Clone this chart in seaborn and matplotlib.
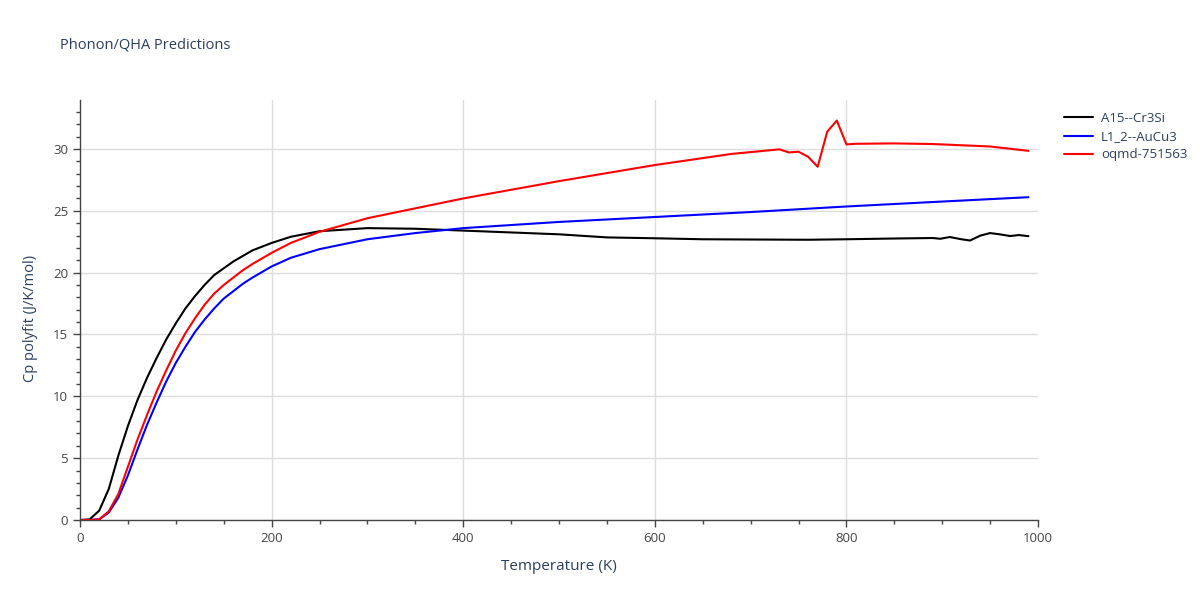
import numpy as np
import pandas as pd
import matplotlib
matplotlib.use("Agg")
import matplotlib.pyplot as plt
from matplotlib.ticker import MultipleLocator
import seaborn as sns

# A15--Cr3Si
t_a15 = [0, 10, 20, 30, 40, 50, 60, 70, 80, 90, 100, 110, 120, 130, 140, 160, 180, 200, 220,
         250, 300, 350, 400, 500, 550, 600, 650, 700, 760, 800, 850, 890, 898, 908, 920, 929,
         940, 950, 960, 971, 980, 990]
cp_a15 = [0, 0.05, 0.75, 2.5, 5.2, 7.6, 9.7, 11.5, 13.1, 14.6, 15.9, 17.1, 18.1, 19.0, 19.8,
          20.9, 21.8, 22.4, 22.9, 23.35, 23.6, 23.55, 23.4, 23.1, 22.85, 22.78, 22.7, 22.68,
          22.66, 22.7, 22.76, 22.8, 22.74, 22.88, 22.7, 22.6, 23.0, 23.2, 23.1, 22.96, 23.04, 22.95]

# L1_2--AuCu3
t_l12 = [0, 10, 20, 30, 40, 50, 60, 70, 80, 90, 100, 110, 120, 130, 140, 150, 160, 170, 180,
         200, 220, 250, 300, 350, 400, 500, 600, 700, 800, 900, 990]
cp_l12 = [0, 0, 0.05, 0.6, 1.8, 3.6, 5.7, 7.7, 9.5, 11.2, 12.7, 14.0, 15.2, 16.2, 17.1, 17.9,
          18.5, 19.1, 19.6, 20.5, 21.2, 21.9, 22.7, 23.2, 23.6, 24.1, 24.5, 24.9, 25.35, 25.75, 26.1]

# oqmd-751563
t_oqmd = [0, 10, 20, 30, 40, 50, 60, 70, 80, 90, 100, 110, 120, 130, 140, 150, 160, 170, 180,
          200, 220, 250, 300, 350, 400, 500, 600, 680, 730, 740, 750, 760, 770, 780, 790, 800,
          810, 850, 890, 950, 990]
cp_oqmd = [0, 0, 0.05, 0.7, 2.1, 4.3, 6.5, 8.5, 10.4, 12.1, 13.7, 15.1, 16.3, 17.4, 18.3, 19.0,
           19.6, 20.2, 20.7, 21.6, 22.4, 23.3, 24.4, 25.2, 26.0, 27.4, 28.7, 29.6, 29.97, 29.72,
           29.78, 29.37, 28.56, 31.4, 32.3, 30.37, 30.42, 30.45, 30.4, 30.2, 29.85]

names = ["A15--Cr3Si", "L1_2--AuCu3", "oqmd-751563"]
colors = ["black", "blue", "red"]

df = pd.concat([
    pd.DataFrame({"T": t_a15, "Cp": cp_a15, "name": names[0]}),
    pd.DataFrame({"T": t_l12, "Cp": cp_l12, "name": names[1]}),
    pd.DataFrame({"T": t_oqmd, "Cp": cp_oqmd, "name": names[2]}),
])

sns.set_style("white")
plt.rcParams["font.family"] = ["Open Sans", "DejaVu Sans"]
txt = "#2a3f5f"
tick_c = "#444444"
grid_c = "#dddddd"

fig = plt.figure(figsize=(12, 6), dpi=100)
ax = fig.add_axes([80 / 1200, 1 - 520 / 600, 958 / 1200, 420 / 600])

sns.lineplot(data=df, x="T", y="Cp", hue="name", palette=colors, hue_order=names,
             linewidth=1.5, ax=ax, sort=False, estimator=None)

ax.set_xlim(0, 1000)
ax.set_ylim(0, 33.96)
ax.xaxis.set_major_locator(MultipleLocator(200))
ax.xaxis.set_minor_locator(MultipleLocator(50))
ax.yaxis.set_major_locator(MultipleLocator(5))
ax.yaxis.set_minor_locator(MultipleLocator(1))
ax.grid(True, axis="y", which="major", color=grid_c, linewidth=1)
ax.grid(False, axis="x")
# vertical grid lines, none on the right edge
for v in ax.get_xticks():
    if 0 < v < 1000:
        ax.axvline(v, color=grid_c, linewidth=1, zorder=0)
ax.set_axisbelow(True)
for s in ["top", "right"]:
    ax.spines[s].set_visible(False)
for s in ["left", "bottom"]:
    ax.spines[s].set_color("#444444")
    ax.spines[s].set_linewidth(1)
ax.tick_params(which="major", direction="out", length=5, width=1, color=tick_c,
               labelsize=9.5, labelcolor=tick_c, left=True, bottom=True)
ax.tick_params(which="minor", direction="out", length=3, width=1, color=tick_c,
               left=True, bottom=True)

ax.set_xlabel("Temperature (K)", fontsize=11, color=txt, labelpad=10)
ax.set_ylabel("Cp polyfit (J/K/mol)", fontsize=10.5, color=txt, labelpad=10)
ax.yaxis.set_label_coords(-0.044, 0.48)

leg = ax.legend(loc="upper left", bbox_to_anchor=(1.015, 1.0), frameon=False,
                fontsize=9.5, handlelength=2.2, handletextpad=0.6, labelspacing=0.4)
for t in leg.get_texts():
    t.set_color(txt)

fig.text(60 / 1200, 1 - 45 / 600, "Phonon/QHA Predictions", fontsize=10.5, color=txt,
         va="center", ha="left")

fig.savefig("out.png", dpi=100)
